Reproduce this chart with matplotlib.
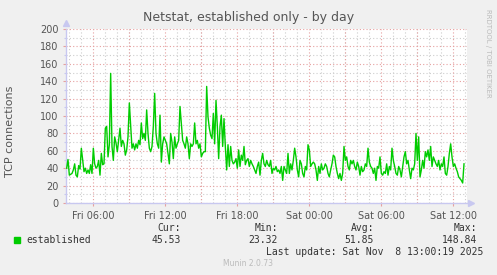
"""Munin-style netstat chart: established TCP connections by day."""

import matplotlib

matplotlib.use("Agg")
import matplotlib.dates as mdates
import matplotlib.pyplot as plt
import pandas as pd
from matplotlib.ticker import MultipleLocator

# values, one every 400 s
established = [
    40, 50, 32, 33, 34, 38, 45, 32, 30, 43,
    39, 63, 49, 36, 40, 34, 38, 34, 44, 34,
    63, 45, 40, 42, 49, 32, 57, 44, 45, 86,
    88, 53, 67, 149, 65, 49, 76, 69, 59, 72,
    86, 65, 72, 68, 55, 61, 76, 115, 88, 63,
    68, 61, 68, 63, 72, 67, 92, 74, 80,
    72, 107, 80, 63, 59, 65, 88, 126, 80, 68,
    63, 101, 47, 68, 76, 72, 68, 57, 45, 80,
    70, 51, 76, 63, 68, 72, 111, 92, 72, 68,
    63, 76, 68, 51, 68, 65, 68, 92, 68, 72,
    63, 68, 53, 57, 59, 59, 134, 99, 86, 78,
    74, 103, 68, 118, 88, 51, 88, 101, 65,
    97, 65, 38, 67, 42, 65, 49, 45, 47, 51,
    40, 61, 42, 55, 49, 65, 44, 49, 51, 42,
    49, 45, 42, 38, 34, 42, 47, 32, 49, 57,
    45, 42, 49, 44, 42, 49, 34, 40, 38, 42,
    36, 38, 34, 42, 26, 42, 38, 34, 57, 34,
    45, 38, 49, 63, 53, 38, 30, 49, 45, 34,
    30, 42, 38, 67, 61, 42, 45, 47, 45, 38,
    26, 42, 34, 45, 38, 40, 45, 42, 34, 30,
    38, 45, 55, 53, 42, 34, 28, 34, 26, 34,
    65, 49, 53, 42, 38, 49, 45, 49, 42, 38,
    47, 42, 32, 42, 36, 38, 45, 42, 63, 47,
    42, 40, 34, 40, 26, 42, 40, 53, 34, 32,
    36, 34, 45, 32, 42, 38, 63, 49, 42, 34,
    32, 42, 38, 30, 42, 53, 59, 45, 49, 38,
    28, 40, 38, 45, 80, 49, 76, 30, 38, 49,
    40, 59, 53, 61, 49, 65, 42, 53, 49, 45,
    42, 49, 38, 45, 42, 53, 34, 32, 42, 57,
    68, 53, 42, 45, 40, 36, 30, 28, 26, 23,
    45,
]
start_time = "2025-11-07 03:48:20"
x_range = ("2025-11-07 03:45", "2025-11-08 13:10")
y_max = 200

legend_label = "established"
stat_names = ["Cur:", "Min:", "Avg:", "Max:"]
stat_values = ["45.53", "23.32", "51.85", "148.84"]
last_update = "Last update: Sat Nov  8 13:00:19 2025"

times = pd.date_range(start_time, periods=len(established), freq="400s")

BG = "#f0f0f0"
TXT = "#555555"
AXIS = "#c8c8f0"
MAJOR = "#e6a0a0"
MINOR = "#cdcdcd"
GREEN = "#00cc00"

W, H = 497, 275
fig = plt.figure(figsize=(W / 100, H / 100), dpi=100, facecolor=BG)
ax = fig.add_axes([66 / W, 1 - 203 / H, 401 / W, 174 / H])
ax.set_facecolor("white")

ax.plot(times, established, color=GREEN, lw=1.0, zorder=3)
ax.set_xlim(pd.Timestamp(x_range[0]), pd.Timestamp(x_range[1]))
ax.set_ylim(0, y_max)

ax.yaxis.set_major_locator(MultipleLocator(20))
ax.yaxis.set_minor_locator(MultipleLocator(10))
ax.xaxis.set_major_locator(mdates.HourLocator(byhour=[0, 6, 12, 18]))
ax.xaxis.set_major_formatter(mdates.DateFormatter("%a %H:%M"))
ax.xaxis.set_minor_locator(mdates.HourLocator())

# grid: grey every hour / 10, red every 3 h / 20
ax.grid(which="minor", color=MINOR, lw=0.8, ls=(0, (1, 2)), zorder=1)
ax.grid(which="major", axis="y", color=MAJOR, lw=0.8, ls=(0, (1, 2)), zorder=2)
for t in pd.date_range("2025-11-07 06:00", x_range[1], freq="3h"):
    ax.axvline(t, color=MAJOR, lw=0.8, ls=(0, (1, 2)), zorder=2)

ax.tick_params(which="both", colors=MAJOR, labelcolor=TXT, labelsize=7, length=2, width=0.8)
ax.tick_params(axis="x", which="minor", length=0)
ax.tick_params(axis="y", which="minor", length=1.5, colors=AXIS)
for side in ("top", "right"):
    ax.spines[side].set_visible(False)
for side in ("left", "bottom"):
    ax.spines[side].set_color(AXIS)
    ax.spines[side].set_linewidth(1.0)

# axis arrows
ax.plot([0], [1.035], marker="^", ms=4, color=AXIS, transform=ax.transAxes, clip_on=False)
ax.plot([1.01], [0], marker=">", ms=4, color=AXIS, transform=ax.transAxes, clip_on=False)

fig.text(249 / W, 1 - 18 / H, "Netstat, established only - by day", ha="center",
         va="center", fontsize=9, color=TXT)
fig.text(10 / W, 1 - 131 / H, "TCP connections", rotation=90, ha="center",
         va="center", fontsize=8, color=TXT)
fig.text(488 / W, 1 - 53 / H, "RRDTOOL / TOBI OETIKER", rotation=270, ha="center",
         va="center", fontsize=5, color="#bbbbbb")

mono = "DejaVu Sans Mono"
fig.patches.append(plt.Rectangle((14 / W, 1 - 243 / H), 6 / W, 6 / H, color=GREEN,
                                 transform=fig.transFigure, figure=fig))
fig.text(26 / W, 1 - 240 / H, legend_label, fontsize=7, family=mono, color="#333333",
         va="center")
stat_x = [181, 278, 374, 477]
for x, name, val in zip(stat_x, stat_names, stat_values):
    fig.text(x / W, 1 - 228 / H, name, fontsize=7, family=mono, color="#333333",
             ha="right", va="center")
    fig.text(x / W, 1 - 240 / H, val, fontsize=7, family=mono, color="#333333",
             ha="right", va="center")
fig.text(483 / W, 1 - 252 / H, last_update, fontsize=7, family=mono, color="#333333",
         ha="right", va="center")
fig.text(248 / W, 1 - 264 / H, "Munin 2.0.73", fontsize=5.5, color="#bbbbbb",
         ha="center", va="center")

fig.savefig("out.png", dpi=100, facecolor=BG)
